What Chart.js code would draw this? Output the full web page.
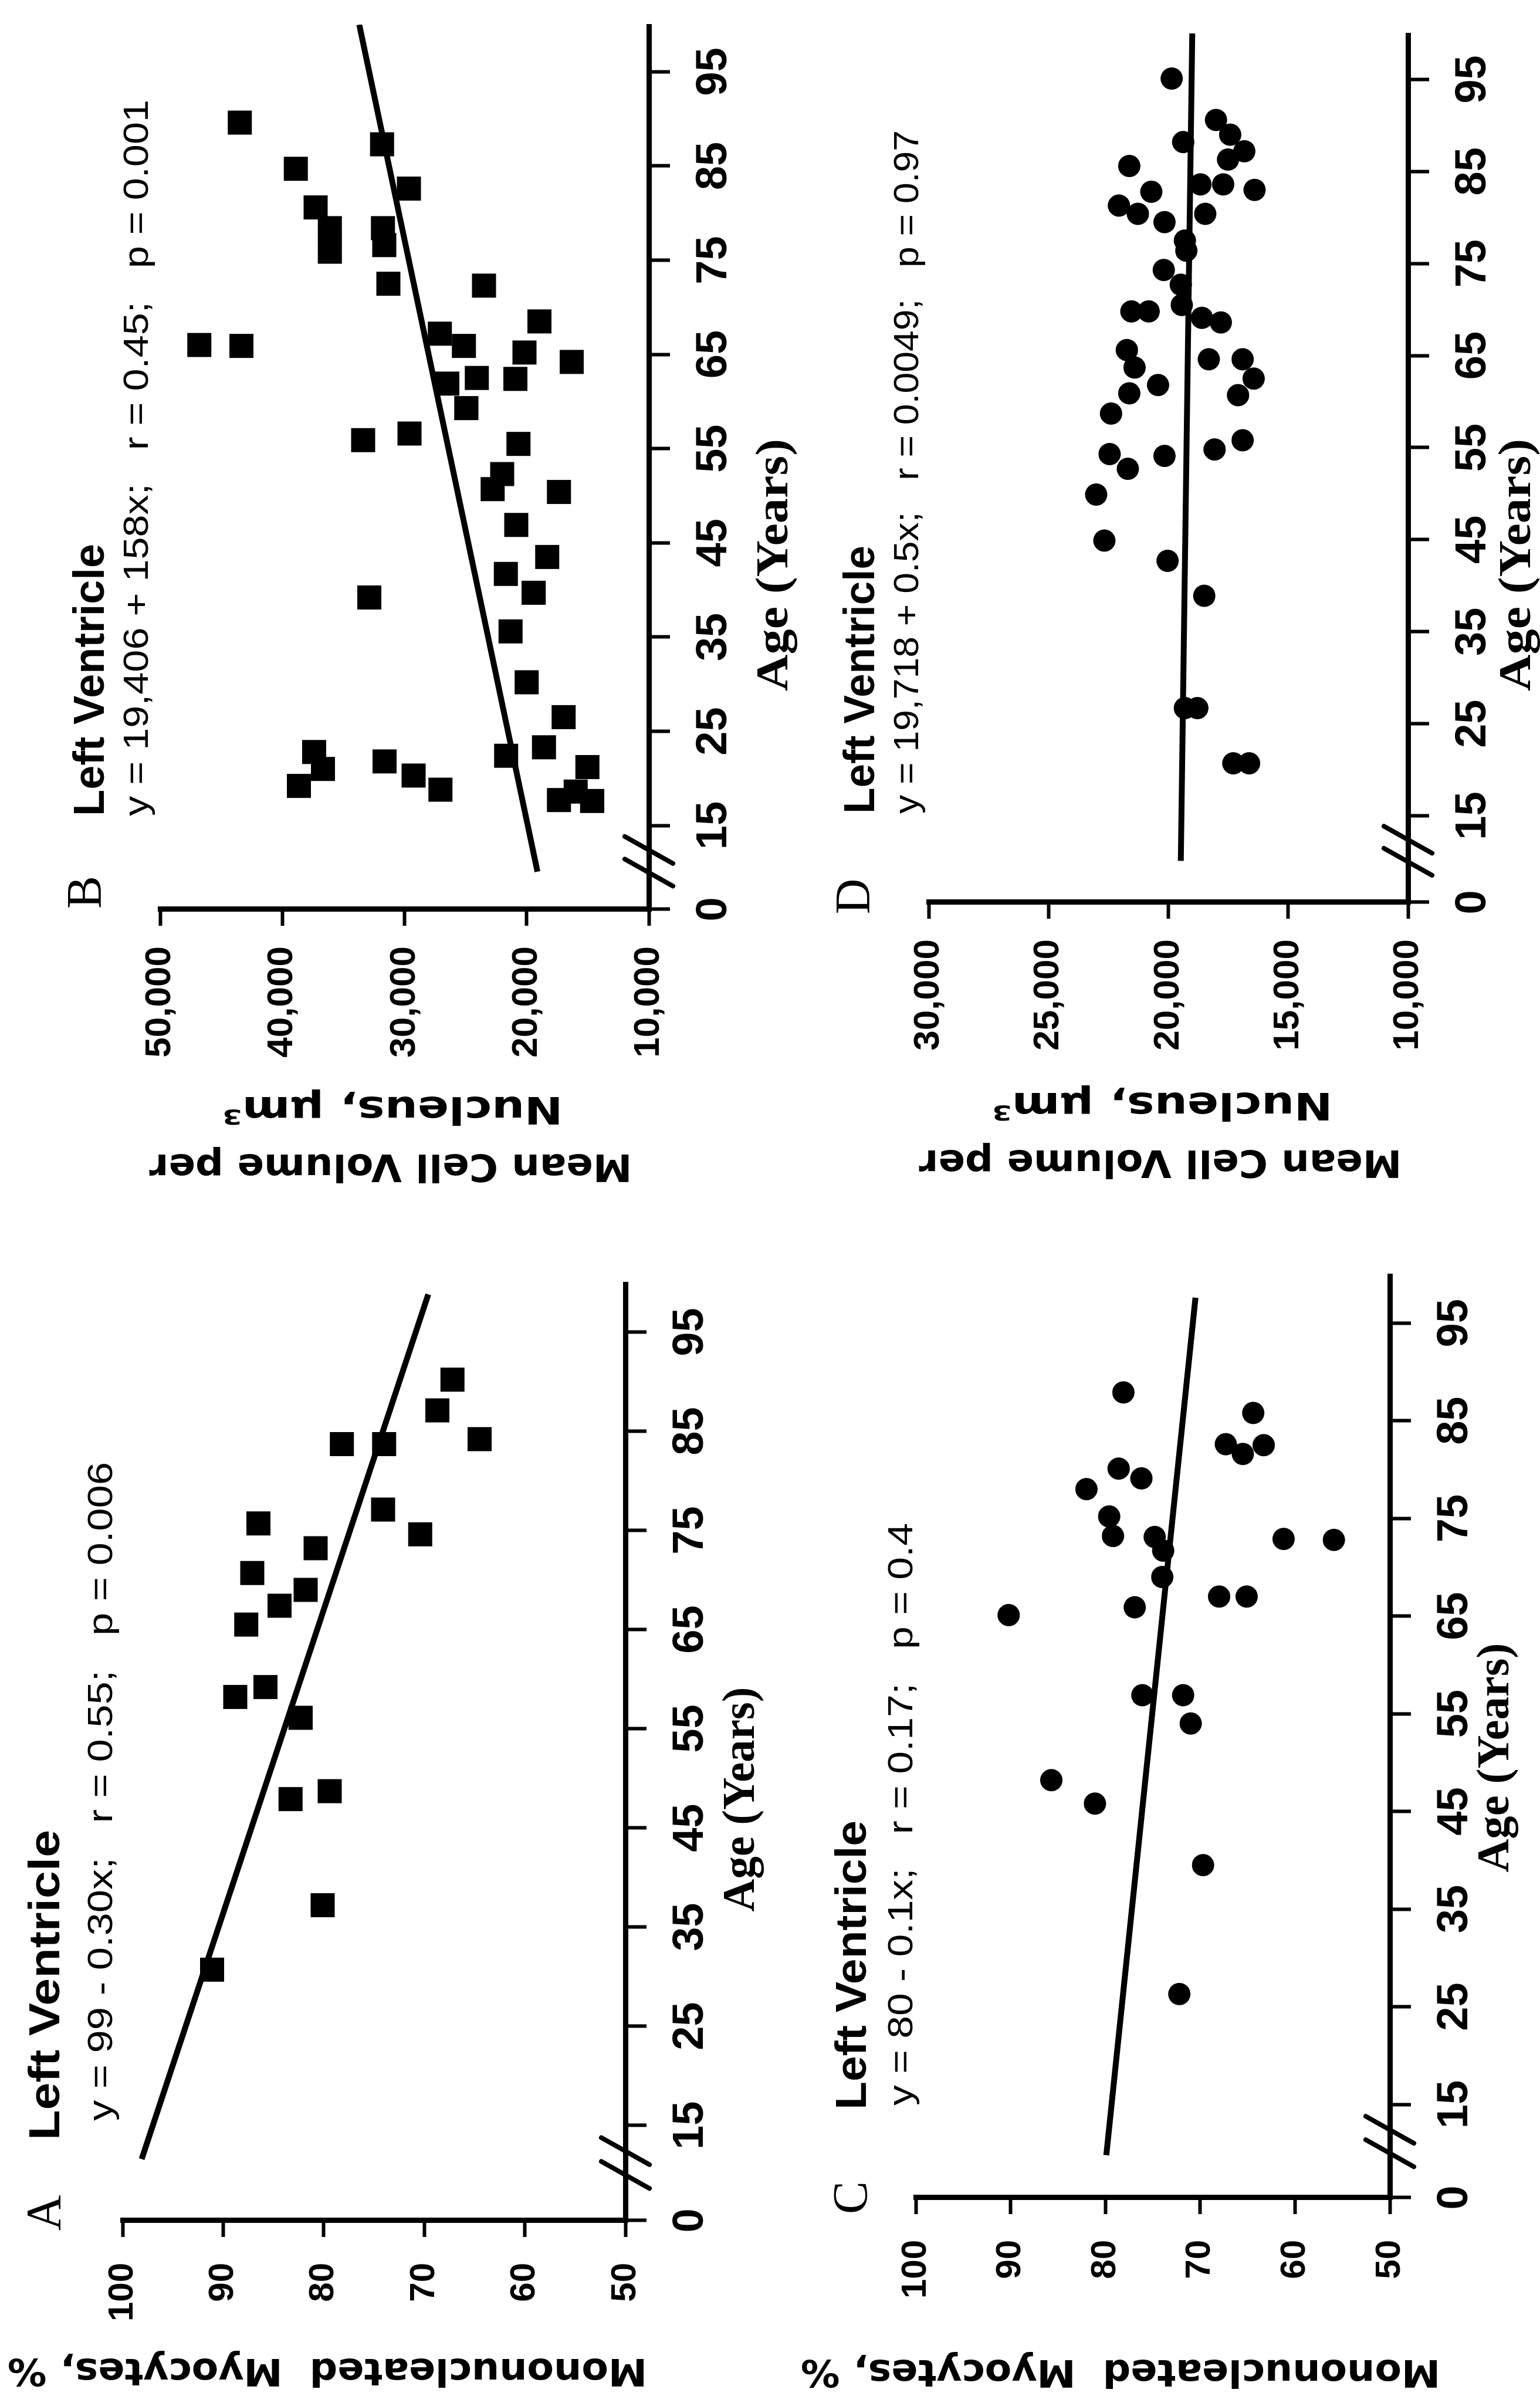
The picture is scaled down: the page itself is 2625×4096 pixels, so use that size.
<!DOCTYPE html>
<html>
<head>
<meta charset="utf-8">
<script src="https://cdn.jsdelivr.net/npm/chart.js@4.4.1/dist/chart.umd.min.js"></script>
<style>
  html, body { margin: 0; padding: 0; background: #fff; }
  body { width: 2625px; height: 4096px; position: relative; overflow: hidden; }
  /* each panel is drawn upright, then turned a quarter left like the scanned page */
  .panel { position: absolute; width: 2048px; height: 1400px; transform-origin: 0 0; transform: translate(0px, 2048px) rotate(-90deg); }
</style>
</head>
<body>
<div class="panel" style="left:0px;top:0px"><canvas id="chartB" width="2048" height="1400"></canvas></div>
<div class="panel" style="left:1313px;top:0px"><canvas id="chartD" width="2048" height="1400"></canvas></div>
<div class="panel" style="left:0px;top:2048px"><canvas id="chartA" width="2048" height="1400"></canvas></div>
<div class="panel" style="left:1313px;top:2048px"><canvas id="chartC" width="2048" height="1400"></canvas></div>
<script>
// ---- tick labels ----
const AGE_TICKS = [15, 25, 35, 45, 55, 65, 75, 85, 95];
const AGE_ZERO_LABEL = '0';
const PCT_TICKS = [50, 60, 70, 80, 90, 100];
const VOL_B_TICKS = [10000, 20000, 30000, 40000, 50000];
const VOL_D_TICKS = [10000, 15000, 20000, 25000, 30000];

// ---- A: mononucleated myocytes (%) vs age ----
const A_AGE = [30.7, 37.2, 47.9, 48.7, 56.1, 58.2, 59.2, 65.5, 67.4, 69.0, 70.7, 73.2, 75.7, 77.1, 74.6, 83.7, 83.7, 87.1, 84.2, 90.2];
const A_PCT = [91.1, 80.1, 83.3, 79.4, 82.3, 88.8, 85.8, 87.7, 84.4, 81.8, 87.1, 80.8, 86.5, 74.1, 70.4, 78.2, 74.0, 68.7, 64.5, 67.2];
const A_FIT_AGE = [11.6, 98.8];
const A_FIT_PCT = [98.1, 69.6];

// ---- B: mean cell volume per nucleus vs age ----
const B_AGE = [89.6, 84.7, 80.6, 78.4, 75.9, 87.3, 82.6, 78.4, 76.6, 72.5, 72.3, 66.0, 65.9, 67.2, 65.9, 68.5, 65.2, 64.2,
  62.5, 62.4, 61.9, 59.3, 55.9, 56.6, 55.5, 52.3, 50.7, 50.4, 46.9, 43.5, 41.7, 39.7, 35.6, 39.2, 30.2, 26.5, 23.3, 22.4,
  21.2, 17.7, 18.6, 17.6, 22.8, 21.0, 19.2, 21.8, 20.3, 18.8];
const B_VOL = [43480, 38900, 37270, 36110, 36110, 31840, 29640, 31760, 31660, 31320, 23490, 46800, 43350, 27110, 25140, 18960, 20180, 16320,
  24080, 20930, 26490, 24940, 33390, 29590, 20670, 22010, 22790, 17360, 20850, 18320, 21700, 19430, 21320, 32880, 20000, 16970, 18580, 21680,
  15030, 17360, 15990, 14640, 37400, 36680, 38640, 31630, 29250, 27060];
const B_FIT_AGE = [10.1, 100];
const B_FIT_VOL = [19120, 33700];

// ---- C: mononucleated myocytes (%) vs age ----
const C_AGE = [87.9, 85.8, 82.6, 82.5, 81.6, 80.1, 79.1, 78.0, 75.2, 73.2, 73.1, 71.7, 69.0, 72.9, 72.8, 65.1, 65.9, 67.0, 67.0, 56.9, 56.9, 54.0, 48.2, 45.8, 39.5, 26.3];
const C_PCT = [78.1, 64.4, 67.3, 63.3, 65.5, 78.6, 76.2, 82.0, 79.6, 79.2, 74.8, 73.9, 74.0, 61.2, 55.9, 90.2, 76.9, 68.0, 65.1, 76.1, 71.8, 71.0, 85.7, 81.1, 69.7, 72.2];
const C_FIT_AGE = [9.8, 97.6];
const C_FIT_PCT = [79.9, 70.5];

// ---- D: mean cell volume per nucleus vs age ----
const D_AGE = [95.1, 88.2, 90.6, 89.0, 87.2, 86.3, 85.6, 82.8, 81.3, 80.4, 83.6, 83.6, 83.0, 80.4, 79.5, 77.5, 76.4, 74.3, 72.7, 70.5,
  69.8, 69.8, 69.1, 68.6, 65.6, 63.7, 64.6, 64.6, 62.5, 60.7, 61.8, 60.9, 58.7, 54.3, 52.7, 54.1, 54.8, 55.8, 49.9, 44.9,
  42.7, 38.9, 26.7, 26.7, 20.7, 20.7];
const D_VOL = [19860, 19380, 18010, 17420, 16830, 17510, 21630, 20710, 22060, 21270, 18660, 17710, 16400, 18460, 20160, 19310, 19250, 20190, 19480, 19440,
  21540, 20820, 18600, 17810, 21730, 21410, 18310, 16900, 16440, 17090, 20430, 21630, 22390, 22450, 21690, 20160, 18070, 16900, 23010, 22670,
  20030, 18500, 19310, 18790, 17290, 16630];
const D_FIT_AGE = [10.1, 100];
const D_FIT_VOL = [19480, 19000];

const W = 2048, H = 1400;
const SANS = "'Liberation Sans', Arial, sans-serif";
const SERIF = "'Liberation Serif', 'Times New Roman', serif";
const WIDE = "'DejaVu Sans', sans-serif";

function pts(xs, ys) {
  return xs.map((x, i) => ({ x: x, y: ys[i] }));
}

function drawText(ctx, t) {
  ctx.save();
  ctx.font = t.font;
  ctx.fillStyle = '#000';
  ctx.textBaseline = 'middle';
  ctx.textAlign = t.align || 'left';
  ctx.translate(t.u, t.v);
  if (t.rot) ctx.rotate(t.rot);
  if (t.width) ctx.scale(t.width / ctx.measureText(t.text).width, 1);
  ctx.fillText(t.text, 0, 0);
  ctx.restore();
}

function makePanel(id, cfg) {
  const area = cfg.area;
  const extras = {
    id: 'extras',
    afterDraw(chart) {
      const ctx = chart.ctx;
      // axis break marks on the age axis
      const xs = chart.scales.x;
      const y0 = chart.chartArea.bottom;
      ctx.save();
      ctx.strokeStyle = '#000';
      ctx.lineWidth = 8;
      ctx.lineCap = 'round';
      [10, 12.4].forEach(a => {
        const x = xs.getPixelForValue(a);
        ctx.beginPath();
        ctx.moveTo(x + 23, y0 - 41);
        ctx.lineTo(x - 23, y0 + 41);
        ctx.stroke();
      });
      ctx.restore();
      cfg.texts.forEach(t => drawText(ctx, t));
    }
  };

  new Chart(document.getElementById(id), {
    type: 'scatter',
    data: {
      datasets: [
        {
          data: pts(cfg.age, cfg.val),
          pointStyle: cfg.marker,
          pointRadius: cfg.marker === 'rect' ? 29 : 19,
          backgroundColor: '#000',
          borderColor: '#000',
          borderWidth: 0
        },
        {
          data: pts(cfg.fitAge, cfg.fitVal),
          showLine: true,
          borderColor: '#000',
          borderWidth: 10,
          pointRadius: 0,
          fill: false
        }
      ]
    },
    options: {
      responsive: false,
      animation: false,
      devicePixelRatio: 1,
      events: [],
      layout: { padding: { left: 0, top: area.top, right: W - area.right, bottom: 0 } },
      plugins: { legend: { display: false }, tooltip: { enabled: false } },
      scales: {
        x: {
          type: 'linear',
          min: cfg.ageMin,
          max: 100,
          afterBuildTicks: s => { s.ticks = [cfg.ageMin].concat(AGE_TICKS).map(v => ({ value: v })); },
          afterFit: s => { s.height = H - area.bottom; },
          border: { display: true, color: '#000', width: 9 },
          grid: { display: true, drawOnChartArea: false, drawTicks: true, tickLength: 36, tickWidth: 6, tickColor: '#000' },
          ticks: {
            color: '#000',
            font: { family: SANS, size: 74, weight: 'bold' },
            padding: 31,
            maxRotation: 0,
            autoSkip: false,
            callback: (v, i) => i === 0 ? AGE_ZERO_LABEL : String(v)
          }
        },
        y: {
          type: 'linear',
          min: cfg.valTicks[0],
          max: cfg.valTicks[cfg.valTicks.length - 1],
          afterBuildTicks: s => { s.ticks = cfg.valTicks.map(v => ({ value: v })); },
          afterFit: s => { s.width = area.left; },
          border: { display: true, color: '#000', width: 9 },
          grid: { display: true, drawOnChartArea: false, drawTicks: true, tickLength: 28, tickWidth: 6, tickColor: '#000' },
          ticks: {
            color: '#000',
            font: { family: SANS, size: cfg.valFont, weight: 'bold' },
            padding: cfg.valPad,
            autoSkip: false,
            callback: v => v >= 1000 ? v.toLocaleString('en-US') : String(v)
          }
        }
      }
    },
    plugins: [extras]
  });
}

const UP = -Math.PI / 2;

makePanel('chartA', {
  age: A_AGE, val: A_PCT, fitAge: A_FIT_AGE, fitVal: A_FIT_PCT,
  marker: 'rect', valTicks: PCT_TICKS, valFont: 60, valPad: 44, ageMin: 5.4,
  area: { left: 311, right: 1910, top: 209, bottom: 1066 },
  texts: [
    { text: 'A', u: 324, v: 81, font: '84px ' + SERIF, align: 'center' },
    { text: 'Left Ventricle', u: 448, v: 81, font: 'bold 74px ' + SANS, width: 529 },
    { text: 'y = 99 - 0.30x;   r = 0.55;   p = 0.006', u: 481, v: 174, font: '60px ' + SANS, width: 1123 },
    { text: 'Mononucleated  Myocytes, %', u: 58, v: 558, rot: UP, align: 'center', font: 'bold 64px ' + WIDE, width: 1090 },
    { text: 'Age (Years)', u: 1029, v: 1265, align: 'center', font: 'bold 78px ' + SERIF, width: 383 }
  ]
});

makePanel('chartB', {
  age: B_AGE, val: B_VOL, fitAge: B_FIT_AGE, fitVal: B_FIT_VOL,
  marker: 'rect', valTicks: VOL_B_TICKS, valFont: 62, valPad: 35, ageMin: 6.1,
  area: { left: 498, right: 2006, top: 273, bottom: 1106 },
  texts: [
    { text: 'B', u: 527, v: 150, font: '84px ' + SERIF, align: 'center' },
    { text: 'Left Ventricle', u: 657, v: 157, font: 'bold 74px ' + SANS, width: 464 },
    { text: 'y = 19,406 + 158x;   r = 0.45;   p = 0.001', u: 657, v: 235, font: '60px ' + SANS, width: 1221 },
    { text: 'Mean Cell Volume per', u: 63, v: 666, rot: UP, align: 'center', font: 'bold 64px ' + WIDE, width: 823 },
    { text: 'Nucleus, \u00b5m\u00b3', u: 161, v: 669, rot: UP, align: 'center', font: 'bold 64px ' + WIDE, width: 581 },
    { text: 'Age (Years)', u: 1085, v: 1322, align: 'center', font: 'bold 78px ' + SERIF, width: 430 }
  ]
});

makePanel('chartC', {
  age: C_AGE, val: C_PCT, fitAge: C_FIT_AGE, fitVal: C_FIT_PCT,
  marker: 'circle', valTicks: PCT_TICKS, valFont: 60, valPad: 44, ageMin: 5.45,
  area: { left: 350, right: 1924, top: 248, bottom: 1056 },
  texts: [
    { text: 'C', u: 350, v: 143, font: '84px ' + SERIF, align: 'center' },
    { text: 'Left Ventricle', u: 500, v: 143, font: 'bold 74px ' + SANS, width: 493 },
    { text: 'y = 80 - 0.1x;   r = 0.17;   p = 0.4', u: 507, v: 225, font: '60px ' + SANS, width: 993 },
    { text: 'Mononucleated  Myocytes, %', u: 56, v: 597, rot: UP, align: 'center', font: 'bold 64px ' + WIDE, width: 1090 },
    { text: 'Age (Years)', u: 1100, v: 1238, align: 'center', font: 'bold 78px ' + SERIF, width: 391 }
  ]
});

makePanel('chartD', {
  age: D_AGE, val: D_VOL, fitAge: D_FIT_AGE, fitVal: D_FIT_VOL,
  marker: 'circle', valTicks: VOL_D_TICKS, valFont: 62, valPad: 35, ageMin: 5.6,
  area: { left: 510, right: 1991, top: 270, bottom: 1087 },
  texts: [
    { text: 'D', u: 520, v: 147, font: '84px ' + SERIF, align: 'center' },
    { text: 'Left Ventricle', u: 661, v: 157, font: 'bold 74px ' + SANS, width: 457 },
    { text: 'y = 19,718 + 0.5x;   r = 0.0049;   p = 0.97', u: 661, v: 235, font: '60px ' + SANS, width: 1165 },
    { text: 'Mean Cell Volume per', u: 70, v: 665, rot: UP, align: 'center', font: 'bold 64px ' + WIDE, width: 823 },
    { text: 'Nucleus, \u00b5m\u00b3', u: 168, v: 668, rot: UP, align: 'center', font: 'bold 64px ' + WIDE, width: 581 },
    { text: 'Age (Years)', u: 1085, v: 1275, align: 'center', font: 'bold 78px ' + SERIF, width: 430 }
  ]
});
</script>
</body>
</html>
